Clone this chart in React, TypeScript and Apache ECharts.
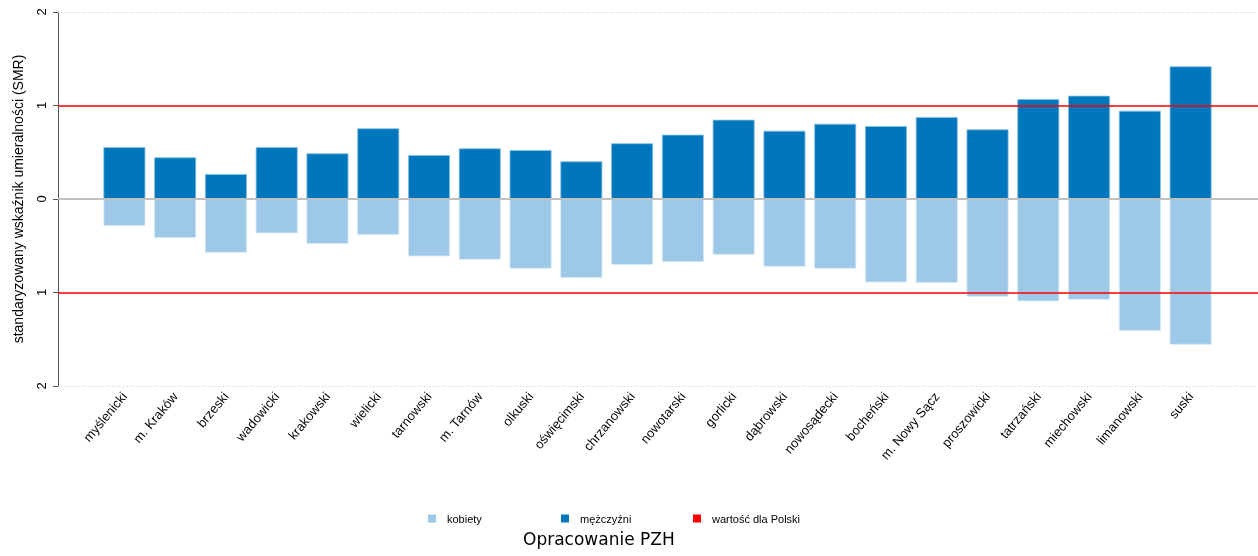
import React, { useEffect, useRef } from "react";
import * as echarts from "echarts";

const categories = [
  "myślenicki", "m. Kraków", "brzeski", "wadowicki", "krakowski", "wielicki",
  "tarnowski", "m. Tarnów", "olkuski", "oświęcimski", "chrzanowski", "nowotarski",
  "gorlicki", "dąbrowski", "nowosądecki", "bocheński", "m. Nowy Sącz", "proszowicki",
  "tatrzański", "miechowski", "limanowski", "suski",
];

const men = [
  0.556, 0.446, 0.267, 0.556, 0.489, 0.756, 0.47, 0.542, 0.524, 0.403, 0.596,
  0.688, 0.848, 0.73, 0.805, 0.78, 0.877, 0.745, 1.069, 1.105, 0.944, 1.419,
];

const women = [
  -0.289, -0.417, -0.574, -0.367, -0.481, -0.385, -0.613, -0.649, -0.745, -0.845,
  -0.706, -0.674, -0.596, -0.724, -0.745, -0.891, -0.898, -1.045, -1.094, -1.077,
  -1.412, -1.558,
];

const polandValues = [1, -1];
const yTicks = { min: -2, max: 2, interval: 1 };

const DARK = "#0077BD";
const LIGHT = "#9DC8E7";
const RED = "#FF0000";

export default function App() {
  const ref = useRef<HTMLDivElement>(null);
  useEffect(() => {
    if (!ref.current) return;
    const chart = echarts.init(ref.current, undefined, { renderer: "svg" });
    const font = "Liberation Sans, Arial, sans-serif";
    const legendBase = {
      top: 508,
      itemWidth: 8,
      itemHeight: 8,
      icon: "rect",
      itemStyle: { borderWidth: 0 },
      textStyle: { fontSize: 11, color: "#000", fontFamily: font, padding: [0, 0, 0, 6] },
    };
    chart.setOption({
      animation: false,
      textStyle: { fontFamily: font },
      grid: [
        { left: 58, right: 0, top: 12, bottom: 170 },
        { left: 99, right: 42, top: 12, bottom: 170 },
      ],
      legend: [
        { ...legendBase, left: 423, data: ["kobiety"] },
        { ...legendBase, left: 556, data: ["mężczyźni"] },
        { ...legendBase, left: 688, data: ["wartość dla Polski"] },
      ],
      xAxis: [
        { type: "value", gridIndex: 0, min: 0, max: 1, show: false },
        {
          type: "category",
          gridIndex: 1,
          data: categories,
          axisLine: { show: false },
          axisTick: { show: false },
          axisLabel: {
            rotate: 50,
            interval: 0,
            fontSize: 13,
            color: "#000",
            fontFamily: font,
            margin: 8,
          },
        },
      ],
      yAxis: [
        {
          type: "value",
          gridIndex: 0,
          min: yTicks.min,
          max: yTicks.max,
          interval: yTicks.interval,
          axisLine: { show: true, lineStyle: { color: "#555", width: 1 } },
          axisTick: { show: true, length: 5, lineStyle: { color: "#555" } },
          splitLine: { show: false },
          axisLabel: {
            rotate: 90,
            fontSize: 13,
            color: "#000",
            margin: 10,
            formatter: (v: number) => String(Math.abs(v)),
          },
          name: "standaryzowany wskaźnik umieralności (SMR)",
          nameLocation: "middle",
          nameRotate: 90,
          nameGap: 33,
          nameTextStyle: { fontSize: 14, color: "#000", fontFamily: font },
        },
        {
          type: "value",
          gridIndex: 1,
          min: yTicks.min,
          max: yTicks.max,
          interval: yTicks.interval,
          show: false,
          splitLine: { show: false },
        },
      ],
      series: [
        {
          name: "kobiety",
          type: "bar",
          xAxisIndex: 1,
          yAxisIndex: 1,
          data: women,
          barWidth: 42,
          barGap: "-100%",
          itemStyle: { color: LIGHT, borderColor: "#d6eaf7", borderWidth: 0.8 },
          z: 2,
        },
        {
          name: "mężczyźni",
          type: "bar",
          xAxisIndex: 1,
          yAxisIndex: 1,
          data: men,
          barWidth: 42,
          barGap: "-100%",
          itemStyle: { color: DARK, borderColor: "#8cc3e6", borderWidth: 0.8 },
          z: 2,
        },
        {
          name: "wartość dla Polski",
          type: "line",
          xAxisIndex: 0,
          yAxisIndex: 0,
          data: [],
          itemStyle: { color: RED },
          lineStyle: { color: RED },
          z: 5,
          markLine: {
            silent: true,
            symbol: "none",
            label: { show: false },
            z: 5,
            data: [
              { yAxis: yTicks.max, lineStyle: { color: "#a9dbe8", type: [1, 2], width: 1 } },
              { yAxis: yTicks.min, lineStyle: { color: "#a9dbe8", type: [1, 2], width: 1 } },
              { yAxis: 0, lineStyle: { color: "#c0c0c0", type: "solid", width: 2 } },
              ...polandValues.map((v) => ({
                yAxis: v,
                lineStyle: { color: RED, type: "solid", width: 1.5 },
              })),
            ],
          },
        },
      ],
      graphic: [
        {
          type: "text",
          left: 523,
          top: 530,
          style: {
            text: "Opracowanie PZH",
            fontSize: 17,
            fontFamily: "DejaVu Sans",
            fill: "#000",
          },
        },
      ],
    });
    return () => chart.dispose();
  }, []);
  return (
    <div
      ref={ref}
      style={{ position: "fixed", left: 0, top: 0, width: 1258, height: 556 }}
    />
  );
}
